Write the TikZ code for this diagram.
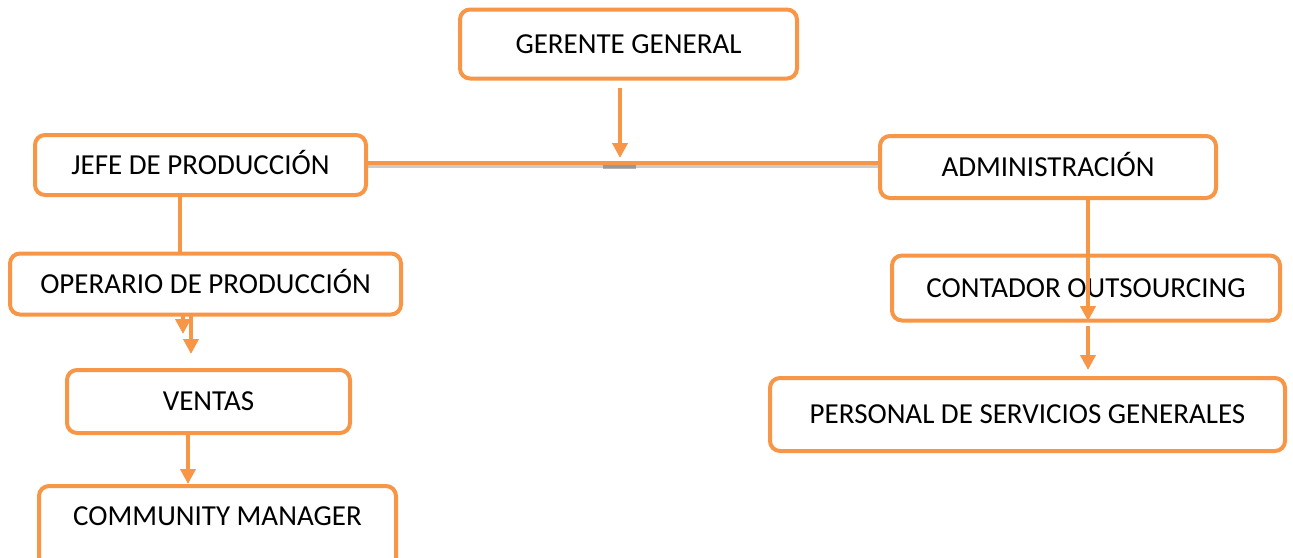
\documentclass[tikz,border=0pt]{standalone}
\usepackage{fontspec}
\setmainfont{Carlito}
\usetikzlibrary{arrows.meta}
\definecolor{orgline}{HTML}{F79646}
\tikzset{
  box/.style={draw=orgline, line width=4pt, rounded corners=10pt, fill=white,
    inner sep=0pt, text height=18.5pt, text depth=0pt, font=\fontsize{29}{32}\selectfont},
  conn/.style={draw=orgline, line width=4pt},
  arr/.style={conn, -{Triangle[width=15pt,length=15pt]}},
  shade/.style={draw=black!45, line width=3pt, opacity=0.45},
}
\begin{document}
\begin{tikzpicture}[x=1pt,y=-1pt]
\useasboundingbox (0,0) rectangle (1293,557);
% nodes
\node[box, minimum width=337pt, minimum height=69pt] (gg) at (628.5,44) {GERENTE GENERAL};
\node[box, minimum width=331pt, minimum height=60pt] (jefe) at (200.5,165) {JEFE DE PRODUCCIÓN};
\node[box, minimum width=336pt, minimum height=62pt] (admin) at (1048,167) {ADMINISTRACIÓN};
\node[box, minimum width=391pt, minimum height=61pt] (oper) at (205.5,284) {OPERARIO DE PRODUCCIÓN};
\node[box, minimum width=283pt, minimum height=63pt] (ventas) at (208.5,401.5) {VENTAS};
\node[box, minimum width=388pt, minimum height=65pt] (cont) at (1086,288) {CONTADOR OUTSOURCING};
\node[box, minimum width=515pt, minimum height=73pt] (pers) at (1027.5,414.5) {PERSONAL DE SERVICIOS GENERALES};
\node[box, anchor=north, minimum width=357pt, text height=39pt, text depth=52pt] (cm) at (217.5,484) {COMMUNITY MANAGER};
% coordinates
\coordinate (ggtail) at (620,88);
\coordinate (hmid) at (620,158);
\coordinate (optail1) at (183,314);
\coordinate (ophead1) at (183,334);
\coordinate (optail2) at (191,314);
\coordinate (ophead2) at (191,354);
\coordinate (adtip) at (1088,321);
\coordinate (ad2tail) at (1088,326);
\coordinate (ad2tip) at (1088,370);
% shadows
\draw[shade] (jefe.east |- 0,166) -- (admin.west |- 0,166);
\draw[draw=black!60, line width=4pt, opacity=0.5] (603,167) -- (636,167);
% connectors
\draw[conn] (jefe.east |- 0,163) -- (admin.west |- 0,163);
\draw[arr] (ggtail) -- (hmid);
\draw[conn] (jefe.south -| 180,0) -- (oper.north -| 180,0);
\draw[arr] (optail1) -- (ophead1);
\draw[arr] (optail2) -- (ophead2);
\draw[arr] (ventas.south -| 188,0) -- (cm.north -| 188,0);
\draw[arr] (admin.south -| 1088,0) -- (adtip);
\draw[arr] (ad2tail) -- (ad2tip);
\end{tikzpicture}
\end{document}
